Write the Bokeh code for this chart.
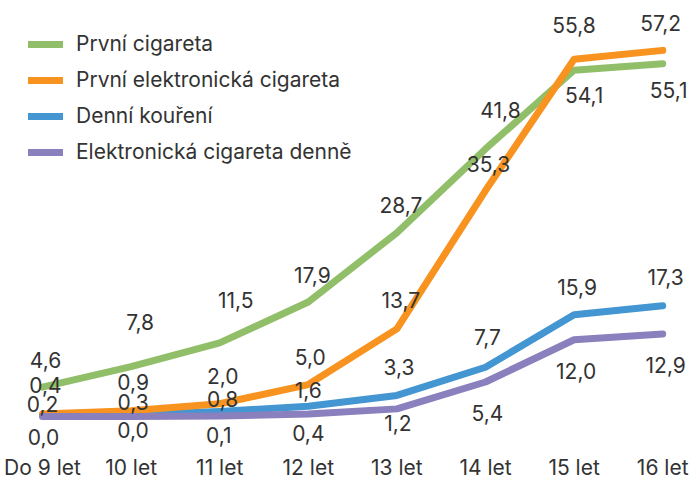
from bokeh.plotting import figure
from bokeh.models import ColumnDataSource, FixedTicker, Range1d, Legend, LegendItem
from bokeh.core.properties import value
from bokeh.embed import file_html
from bokeh.resources import INLINE

# ---- data ----
categories = ["Do 9 let", "10 let", "11 let", "12 let", "13 let", "14 let", "15 let", "16 let"]
prvni_cigareta = [4.6, 7.8, 11.5, 17.9, 28.7, 41.8, 54.1, 55.1]
prvni_ecigareta = [0.4, 0.9, 2.0, 5.0, 13.7, 35.3, 55.8, 57.2]
denni_koureni = [0.2, 0.3, 0.8, 1.6, 3.3, 7.7, 15.9, 17.3]
ecigareta_denne = [0.0, 0.0, 0.1, 0.4, 1.2, 5.4, 12.0, 12.9]
series_names = ["První cigareta", "První elektronická cigareta",
                "Denní kouření", "Elektronická cigareta denně"]

# ---- style / label placement (screen px) ----
colors = ["#91bf69", "#f7931e", "#4396d2", "#8a80bd"]
label_dy = [
    [-27, -45, -43, -27, -28, -39, 25, 26],
    [-29, -29, -28, -28, -29, -27, -34, -27],
    [-11, -13, -12, -16, -28, -30, -28, -29],
    [20, 13, 19, 19, 14, 31, 31, 31],
]
label_dx = [
    [3, 9, 16, 4, 4, 15, 10, 6],
    [3, 2, 3, 2, 4, 3, 0, -2],
    [0, 2, 3, 0, 2, 2, 3, 3],
    [1, 2, -1, 0, 1, 2, 2, 3],
]
FONT = "Inter"
FSIZE = "21px"
TXT = "#333333"

xs = list(range(len(categories)))
all_series = [prvni_cigareta, prvni_ecigareta, denni_koureni, ecigareta_denne]

p = figure(width=694, height=482, output_backend="svg", toolbar_location=None,
           x_range=Range1d(-0.474, 7.359), y_range=Range1d(-4.99, 64.99),
           y_axis_location=None,
           min_border_left=0, min_border_right=0, min_border_top=0, min_border_bottom=33)
p.outline_line_color = None
p.xgrid.visible = False
p.ygrid.visible = False
p.background_fill_color = "white"
p.border_fill_color = "white"

ax = p.xaxis[0]
ax.ticker = FixedTicker(ticks=xs)
ax.major_label_overrides = {i: c for i, c in enumerate(categories)}
ax.axis_line_color = None
ax.major_tick_line_color = None
ax.minor_tick_line_color = None
ax.major_tick_out = 0
ax.major_tick_in = 0
ax.major_label_standoff = 6
ax.major_label_text_font = FONT
ax.major_label_text_font_size = FSIZE
ax.major_label_text_color = TXT

renderers = {}
draw_order = [2, 0, 1, 3]
for i in draw_order:
    r = p.line(xs, all_series[i], line_color=colors[i], line_width=7,
               line_cap="round", line_join="round")
    renderers[i] = r

for i in range(4):
    src = ColumnDataSource(dict(
        x=xs, y=all_series[i],
        t=[f"{v:.1f}".replace(".", ",") for v in all_series[i]],
        xo=label_dx[i], yo=label_dy[i]))
    p.text(x="x", y="y", text="t", x_offset="xo", y_offset="yo", source=src,
           text_align="center", text_baseline="middle",
           text_font=value(FONT), text_font_size=value(FSIZE), text_color=TXT)

legend = Legend(items=[LegendItem(label=series_names[i], renderers=[renderers[i]]) for i in range(4)],
                location=(28, 284), orientation="vertical",
                glyph_width=35, glyph_height=24, label_height=24, spacing=11,
                label_standoff=13, padding=0, margin=0,
                border_line_color=None, background_fill_alpha=0,
                label_text_font=FONT, label_text_font_size=FSIZE, label_text_color=TXT)
p.add_layout(legend, "center")

open("out.html", "w").write(file_html(p, INLINE))
